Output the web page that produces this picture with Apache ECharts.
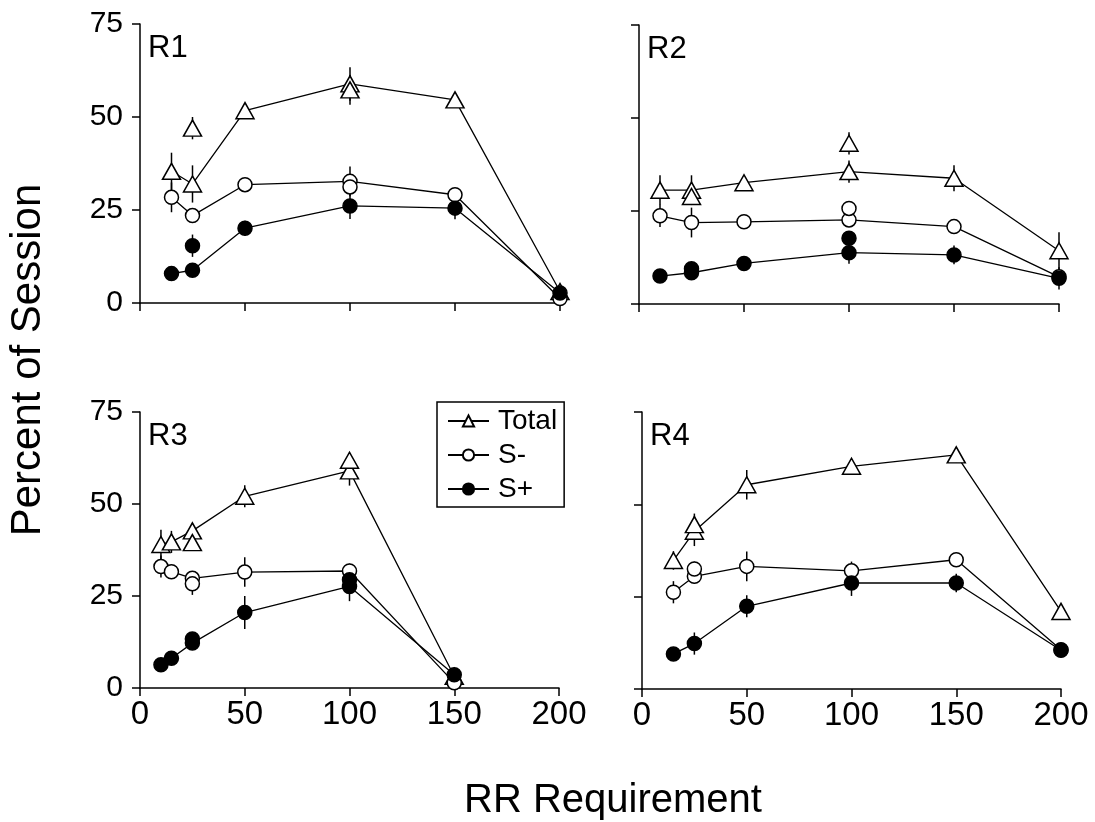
<!DOCTYPE html>
<html>
<head>
<meta charset="utf-8">
<script src="https://cdn.jsdelivr.net/npm/echarts@6/dist/echarts.min.js"></script>
<style>
html,body{margin:0;padding:0;background:#fff;}
#chart{width:1095px;height:822px;}
</style>
</head>
<body>
<div id="chart"></div>
<script>
// ---------- Data ----------
const xTicks = [0, 50, 100, 150, 200];
const yTicks = [0, 25, 50, 75];
const legendNames = ['Total', 'S-', 'S+'];

// R1
const r1X = [15, 25, 50, 100, 150, 200];
const r1Total = [35.4, 32.0, 51.7, 58.9, 54.6, 3.1];
const r1TotalErr = [5, 5, 2, 4.5, 2, 1];
const r1SMinus = [28.4, 23.5, 31.8, 32.7, 29.1, 1.2];
const r1SMinusErr = [4, 2, 1, 4, 1.5, 0.5];
const r1SPlus = [7.9, 8.8, 20.1, 26.1, 25.5, 2.7];
const r1SPlusErr = [0.5, 1, 2, 3.5, 3, 1];
const r1TotalExtraX = [25, 100];
const r1TotalExtra = [47.0, 57.3];
const r1TotalExtraErr = [3, 4];
const r1SMinusExtraX = [100];
const r1SMinusExtra = [31.2];
const r1SMinusExtraErr = [1];
const r1SPlusExtraX = [25];
const r1SPlusExtra = [15.4];
const r1SPlusExtraErr = [3];

// R2
const r2X = [10, 25, 50, 100, 150, 200];
const r2Total = [30.6, 30.6, 32.6, 35.6, 33.8, 14.3];
const r2TotalErr = [4, 4, 1.5, 3, 3.5, 5];
const r2SMinus = [23.7, 21.9, 22.1, 22.6, 20.8, 7.3];
const r2SMinusErr = [3, 4, 1, 1.5, 2, 1];
const r2SPlus = [7.5, 8.4, 10.9, 13.8, 13.2, 6.9];
const r2SPlusErr = [0.5, 1, 1, 3, 2.5, 3];
const r2TotalExtraX = [25, 100];
const r2TotalExtra = [28.9, 43.2];
const r2TotalExtraErr = [2, 3];
const r2SMinusExtraX = [100];
const r2SMinusExtra = [25.7];
const r2SMinusExtraErr = [1];
const r2SPlusExtraX = [25, 100];
const r2SPlusExtra = [9.5, 17.7];
const r2SPlusExtraErr = [1, 1];

// R3
const r3X = [10, 15, 25, 50, 100, 150];
const r3Total = [39.0, 39.7, 42.7, 52.1, 59.0, 3.2];
const r3TotalErr = [4, 3, 2, 3, 4, 1];
const r3SMinus = [33.0, 31.6, 29.8, 31.5, 31.8, 1.4];
const r3SMinusErr = [3, 1, 1, 4, 2, 0.5];
const r3SPlus = [6.3, 8.1, 12.2, 20.5, 27.6, 3.6];
const r3SPlusErr = [0.5, 0.5, 1.5, 4.5, 4, 1];
const r3TotalExtraX = [25, 100];
const r3TotalExtra = [39.5, 61.9];
const r3TotalExtraErr = [1.5, 2];
const r3SMinusExtraX = [25];
const r3SMinusExtra = [28.3];
const r3SMinusExtraErr = [3];
const r3SPlusExtraX = [25, 100];
const r3SPlusExtra = [13.3, 29.4];
const r3SPlusExtraErr = [1, 1];

// R4
const r4X = [15, 25, 50, 100, 150, 200];
const r4Total = [34.8, 42.7, 55.3, 60.3, 63.4, 21.0];
const r4TotalErr = [2.5, 4, 4, 2, 2, 1];
const r4SMinus = [26.2, 30.5, 33.2, 32.0, 35.0, 10.6];
const r4SMinusErr = [3, 2, 4, 2.5, 1, 0.5];
const r4SPlus = [9.5, 12.3, 22.4, 28.7, 28.7, 10.5];
const r4SPlusErr = [0.5, 3, 3, 3.5, 2.5, 1];
const r4TotalExtraX = [25];
const r4TotalExtra = [44.5];
const r4TotalExtraErr = [3];
const r4SMinusExtraX = [25];
const r4SMinusExtra = [32.5];
const r4SMinusExtraErr = [2];
const r4SPlusExtraX = [];
const r4SPlusExtra = [];
const r4SPlusExtraErr = [];

// ---------- Build ----------
const panels = [
  {label:'R1', x:r1X, series:[[r1Total,r1TotalErr,r1TotalExtraX,r1TotalExtra,r1TotalExtraErr],[r1SMinus,r1SMinusErr,r1SMinusExtraX,r1SMinusExtra,r1SMinusExtraErr],[r1SPlus,r1SPlusErr,r1SPlusExtraX,r1SPlusExtra,r1SPlusExtraErr]]},
  {label:'R2', x:r2X, series:[[r2Total,r2TotalErr,r2TotalExtraX,r2TotalExtra,r2TotalExtraErr],[r2SMinus,r2SMinusErr,r2SMinusExtraX,r2SMinusExtra,r2SMinusExtraErr],[r2SPlus,r2SPlusErr,r2SPlusExtraX,r2SPlusExtra,r2SPlusExtraErr]]},
  {label:'R3', x:r3X, series:[[r3Total,r3TotalErr,r3TotalExtraX,r3TotalExtra,r3TotalExtraErr],[r3SMinus,r3SMinusErr,r3SMinusExtraX,r3SMinusExtra,r3SMinusExtraErr],[r3SPlus,r3SPlusErr,r3SPlusExtraX,r3SPlusExtra,r3SPlusExtraErr]]},
  {label:'R4', x:r4X, series:[[r4Total,r4TotalErr,r4TotalExtraX,r4TotalExtra,r4TotalExtraErr],[r4SMinus,r4SMinusErr,r4SMinusExtraX,r4SMinusExtra,r4SMinusExtraErr],[r4SPlus,r4SPlusErr,r4SPlusExtraX,r4SPlusExtra,r4SPlusExtraErr]]}
];

const FONT = 'Liberation Sans, Arial, sans-serif';
const grids = [
  {left:140, top:24, width:420, height:279},
  {left:639, top:25, width:420, height:279},
  {left:140, top:412, width:419, height:276},
  {left:642, top:412, width:419, height:277}
];

const styles = [
  {symbol:'triangle', size:[18,16], fill:'#fff'},
  {symbol:'circle', size:14, fill:'#fff'},
  {symbol:'circle', size:14, fill:'#000'}
];

const xAxes = [], yAxes = [], series = [], graphics = [];

grids.forEach((g, i) => {
  const bottomRow = i >= 2, leftCol = (i % 2 === 0);
  xAxes.push({
    type:'value', gridIndex:i, min:xTicks[0], max:xTicks[xTicks.length-1], interval:50,
    axisLine:{onZero:false, lineStyle:{color:'#000', width:1.5}},
    axisTick:{show:true, length:8, lineStyle:{color:'#000', width:1.5}},
    axisLabel:{show:bottomRow, color:'#000', fontSize:33, fontFamily:FONT, margin:10},
    splitLine:{show:false}
  });
  yAxes.push({
    type:'value', gridIndex:i, min:yTicks[0], max:yTicks[yTicks.length-1], interval:25,
    axisLine:{show:true, onZero:false, lineStyle:{color:'#000', width:1.5}},
    axisTick:{show:true, length:8, lineStyle:{color:'#000', width:1.5}},
    axisLabel:{show:leftCol, color:'#000', fontSize:30, fontFamily:FONT, margin:17},
    splitLine:{show:false}
  });
  const p = panels[i];
  const errData = [];
  p.series.forEach((s, k) => {
    const [vals, errs, exX, exVals, exErrs] = s;
    const st = styles[k];
    series.push({
      name: legendNames[k], type:'line', xAxisIndex:i, yAxisIndex:i,
      data: p.x.map((xv, j) => [xv, vals[j]]),
      symbol: st.symbol, symbolSize: st.size, showAllSymbol:true,
      itemStyle:{color:st.fill, borderColor:'#000', borderWidth:1.5, opacity:1},
      lineStyle:{color:'#000', width:1.3},
      emphasis:{disabled:true}, z:3 + k
    });
    if (exX.length) {
      series.push({
        name: legendNames[k] + ' (rep)', type:'scatter', xAxisIndex:i, yAxisIndex:i,
        data: exX.map((xv, j) => [xv, exVals[j]]),
        symbol: st.symbol, symbolSize: st.size,
        itemStyle:{color:st.fill, borderColor:'#000', borderWidth:1.5, opacity:1},
        emphasis:{disabled:true}, z:3 + k
      });
    }
    p.x.forEach((xv, j) => errData.push([xv, vals[j] - errs[j], vals[j] + errs[j]]));
    exX.forEach((xv, j) => errData.push([xv, exVals[j] - exErrs[j], exVals[j] + exErrs[j]]));
  });
  series.push({
    type:'custom', xAxisIndex:i, yAxisIndex:i, data:errData, z:1,
    encode:{x:0, y:[1,2]},
    renderItem:function(params, api){
      const a = api.coord([api.value(0), api.value(1)]);
      const b = api.coord([api.value(0), api.value(2)]);
      return {type:'line', shape:{x1:a[0], y1:a[1], x2:b[0], y2:b[1]}, style:{stroke:'#000', lineWidth:1.5}};
    }
  });
  graphics.push({
    type:'text', left:g.left + 8, top:g.top + 9,
    style:{text:p.label, fontSize:31, fontFamily:FONT, fill:'#000'}
  });
});

graphics.push({
  type:'text', x:28, y:360, rotation:Math.PI/2,
  style:{text:'Percent of Session', fontSize:42, fontFamily:FONT, fill:'#000', align:'center', verticalAlign:'middle'}
});
graphics.push({
  type:'text', x:613, y:801,
  style:{text:'RR Requirement', fontSize:40, fontFamily:FONT, fill:'#000', align:'center', verticalAlign:'middle'}
});

const chart = echarts.init(document.getElementById('chart'), null, {renderer:'canvas'});
chart.setOption({
  animation:false,
  backgroundColor:'#fff',
  grid: grids.map(g => Object.assign({containLabel:false}, g)),
  xAxis: xAxes,
  yAxis: yAxes,
  legend:{
    data: legendNames, orient:'vertical', left:437, top:402,
    borderColor:'#000', borderWidth:1.5, padding:[5,7,4,10],
    itemWidth:41, itemHeight:14, itemGap:6,
    textStyle:{fontSize:28, fontFamily:FONT, color:'#000', padding:[0,0,0,4]},
    selectedMode:false
  },
  graphic: graphics,
  series: series
});
</script>
</body>
</html>
